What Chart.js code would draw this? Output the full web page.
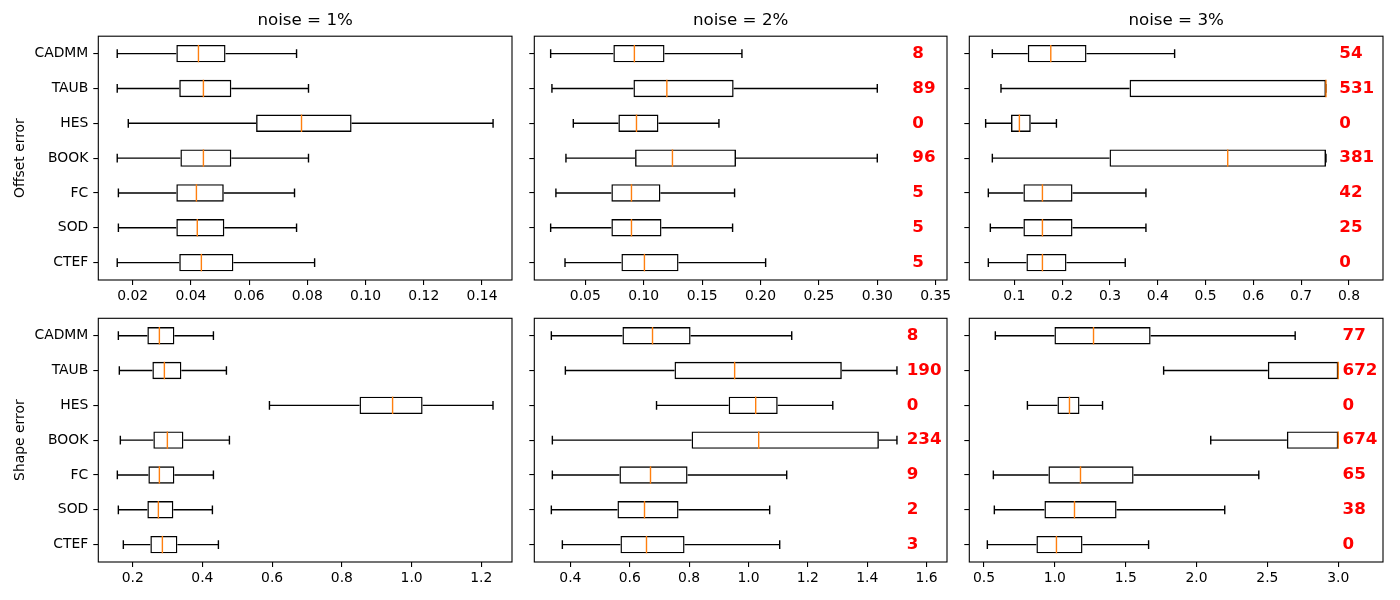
<!DOCTYPE html>
<html>
<head>
<meta charset="utf-8">
<script src="https://cdn.jsdelivr.net/npm/chart.js@4.4.1/dist/chart.umd.min.js"></script>
<style>
html, body { margin: 0; padding: 0; background: #fff; }
#fig { position: relative; width: 1400px; height: 600px; overflow: hidden; }
#fig canvas { position: absolute; }
</style>
</head>
<body>
<div id="fig"></div>
<script>
const methods = ['CADMM', 'TAUB', 'HES', 'BOOK', 'FC', 'SOD', 'CTEF'];

// each row: whisker low, Q1, median, Q3, whisker high
const offsetNoise1 = [
    [0.0147, 0.0350, 0.0426, 0.0519, 0.0763],
    [0.0147, 0.0360, 0.0443, 0.0539, 0.0804],
    [0.0185, 0.0624, 0.0780, 0.0952, 0.1438],
    [0.0147, 0.0364, 0.0443, 0.0539, 0.0804],
    [0.0151, 0.0350, 0.0419, 0.0513, 0.0756],
    [0.0151, 0.0350, 0.0422, 0.0515, 0.0763],
    [0.0147, 0.0360, 0.0436, 0.0546, 0.0825]
];
const offsetNoise2 = [
    [0.0203, 0.0740, 0.0920, 0.1178, 0.1841],
    [0.0214, 0.0912, 0.1198, 0.1770, 0.3000],
    [0.0397, 0.0783, 0.0938, 0.1126, 0.1644],
    [0.0334, 0.0926, 0.1246, 0.1790, 0.3000],
    [0.0248, 0.0723, 0.0895, 0.1143, 0.1778],
    [0.0203, 0.0723, 0.0895, 0.1152, 0.1761],
    [0.0326, 0.0809, 0.1006, 0.1298, 0.2044]
];
const offsetNoise3 = [
    [0.0539, 0.1280, 0.1762, 0.2509, 0.4353],
    [0.0720, 0.3410, 0.7520, 0.7520, 0.7520],
    [0.0399, 0.0930, 0.1105, 0.1343, 0.1880],
    [0.0539, 0.2991, 0.5464, 0.7520, 0.7520],
    [0.0455, 0.1189, 0.1587, 0.2216, 0.3753],
    [0.0497, 0.1189, 0.1587, 0.2216, 0.3753],
    [0.0455, 0.1252, 0.1587, 0.2090, 0.3320]
];
const shapeNoise1 = [
    [0.1589, 0.2421, 0.2766, 0.3196, 0.4316],
    [0.1617, 0.2565, 0.2909, 0.3397, 0.4689],
    [0.5923, 0.8507, 0.9455, 1.0316, 1.2335],
    [0.1646, 0.2593, 0.2995, 0.3455, 0.4775],
    [0.1560, 0.2450, 0.2766, 0.3196, 0.4316],
    [0.1589, 0.2421, 0.2737, 0.3167, 0.4287],
    [0.1732, 0.2507, 0.2852, 0.3282, 0.4459]
];
const shapeNoise2 = [
    [0.3359, 0.5754, 0.6767, 0.8049, 1.1456],
    [0.3831, 0.7508, 0.9533, 1.3143, 1.5000],
    [0.6902, 0.9331, 1.0242, 1.0984, 1.2839],
    [0.3393, 0.8083, 1.0343, 1.4392, 1.5000],
    [0.3393, 0.5653, 0.6699, 0.7947, 1.1287],
    [0.3359, 0.5586, 0.6497, 0.7643, 1.0713],
    [0.3730, 0.5687, 0.6564, 0.7846, 1.1051]
];
const shapeNoise3 = [
    [0.5800, 0.9972, 1.2729, 1.6758, 2.6960],
    [1.7677, 2.5028, 3.0000, 3.0000, 3.0000],
    [0.8063, 1.0184, 1.1032, 1.1739, 1.3365],
    [2.1000, 2.6372, 3.0000, 3.0000, 3.0000],
    [0.5660, 0.9548, 1.1810, 1.5556, 2.4392],
    [0.5730, 0.9265, 1.1386, 1.4355, 2.1989],
    [0.5236, 0.8699, 1.0113, 1.1950, 1.6616]
];

// red counts written at the right of each box
const offsetCount2 = [8, 89, 0, 96, 5, 5, 5];
const offsetCount3 = [54, 531, 0, 381, 42, 25, 0];
const shapeCount2 = [8, 190, 0, 234, 9, 2, 3];
const shapeCount3 = [77, 672, 0, 674, 65, 38, 0];

const ticksOffset1 = ['0.02', '0.04', '0.06', '0.08', '0.10', '0.12', '0.14'];
const ticksOffset2 = ['0.05', '0.10', '0.15', '0.20', '0.25', '0.30', '0.35'];
const ticksOffset3 = ['0.1', '0.2', '0.3', '0.4', '0.5', '0.6', '0.7', '0.8'];
const ticksShape1 = ['0.2', '0.4', '0.6', '0.8', '1.0', '1.2'];
const ticksShape2 = ['0.4', '0.6', '0.8', '1.0', '1.2', '1.4', '1.6'];
const ticksShape3 = ['0.5', '1.0', '1.5', '2.0', '2.5', '3.0'];

const FONT = 'DejaVu Sans';

const cols = [
    { left: 98.3, width: 413.4, yw: 98.3 },
    { left: 534.3, width: 412, yw: 12.3 },
    { left: 969.3, width: 413, yw: 12.3 }
];
const rows = [
    { top: 36.2, height: 243.2 },
    { top: 318.3, height: 243.4 }
];

const panels = [
    { row: 0, col: 0, stats: offsetNoise1, counts: null, ticks: ticksOffset1, min: 0.0082, max: 0.1503, title: 'noise = 1%', ylabel: 'Offset error' },
    { row: 0, col: 1, stats: offsetNoise2, counts: offsetCount2, ticks: ticksOffset2, min: 0.0063, max: 0.3597, title: 'noise = 2%', countX: 0.33 },
    { row: 0, col: 2, stats: offsetNoise3, counts: offsetCount3, ticks: ticksOffset3, min: 0.0057, max: 0.8713, title: 'noise = 3%', countX: 0.78 },
    { row: 1, col: 0, stats: shapeNoise1, counts: null, ticks: ticksShape1, min: 0.1014, max: 1.288, ylabel: 'Shape error' },
    { row: 1, col: 1, stats: shapeNoise2, counts: shapeCount2, ticks: ticksShape2, min: 0.2785, max: 1.6686, countX: 1.533 },
    { row: 1, col: 2, stats: shapeNoise3, counts: shapeCount3, ticks: ticksShape3, min: 0.3963, max: 3.3157, countX: 3.03 }
];

// whiskers, caps, medians, frame and counts
function boxPlugin(p) {
    return {
        id: 'boxExtras',
        afterDatasetsDraw(chart) {
            const ctx = chart.ctx;
            const area = chart.chartArea;
            const xs = chart.scales.x;
            const meta = chart.getDatasetMeta(0);
            ctx.save();
            meta.data.forEach((bar, i) => {
                const s = p.stats[i];
                const y = bar.y;
                const h = bar.height / 2;
                const cap = bar.height / 4;
                const px = s.map(v => xs.getPixelForValue(v));
                ctx.strokeStyle = '#000';
                ctx.lineWidth = 1.4;
                ctx.beginPath();
                ctx.moveTo(px[0], y); ctx.lineTo(px[1], y);
                ctx.moveTo(px[3], y); ctx.lineTo(px[4], y);
                ctx.moveTo(px[0], y - cap); ctx.lineTo(px[0], y + cap);
                ctx.moveTo(px[4], y - cap); ctx.lineTo(px[4], y + cap);
                ctx.stroke();
                ctx.strokeStyle = '#ff7f0e';
                ctx.beginPath();
                ctx.moveTo(px[2], y - h); ctx.lineTo(px[2], y + h);
                ctx.stroke();
                if (p.counts) {
                    ctx.fillStyle = '#ff0000';
                    ctx.font = 'bold 16.7px "' + FONT + '"';
                    ctx.textAlign = 'left';
                    ctx.textBaseline = 'middle';
                    ctx.fillText(String(p.counts[i]), xs.getPixelForValue(p.countX), y);
                }
            });
            ctx.strokeStyle = '#000';
            ctx.lineWidth = 1.1;
            ctx.strokeRect(area.left, area.top, area.right - area.left, area.bottom - area.top);
            ctx.restore();
        }
    };
}

const fig = document.getElementById('fig');

panels.forEach(p => {
    const c = cols[p.col];
    const r = rows[p.row];
    const canvasLeft = Math.round(c.left - c.yw);
    const yw = c.left - canvasLeft;
    const canvasTop = p.row === 0 ? 0 : 300;
    const padTop = p.row === 0 ? 0 : r.top - canvasTop;
    const titleH = p.row === 0 ? r.top : 0;
    const xh = 30;
    const canvas = document.createElement('canvas');
    canvas.width = Math.ceil(yw + c.width + 12);
    canvas.height = Math.ceil(r.top - canvasTop + r.height + xh);
    canvas.style.left = canvasLeft + 'px';
    canvas.style.top = canvasTop + 'px';
    fig.appendChild(canvas);

    new Chart(canvas, {
        type: 'bar',
        data: {
            labels: methods,
            datasets: [{
                data: p.stats.map(s => [s[1], s[3]]),
                backgroundColor: 'rgba(0,0,0,0)',
                borderColor: '#000',
                borderWidth: 1.4,
                borderSkipped: false,
                barPercentage: 0.5,
                categoryPercentage: 1
            }]
        },
        options: {
            indexAxis: 'y',
            responsive: false,
            animation: false,
            events: [],
            layout: { padding: { top: padTop, right: 12, bottom: 0, left: 0 } },
            plugins: {
                legend: { display: false },
                tooltip: { enabled: false },
                title: {
                    display: !!p.title,
                    text: p.title || '',
                    fullSize: false,
                    color: '#000',
                    font: { family: FONT, size: 16.7, weight: 'normal', lineHeight: 1.2 },
                    padding: { top: 11, bottom: titleH - 11 - 16.7 * 1.2 }
                }
            },
            scales: {
                x: {
                    type: 'linear',
                    min: p.min,
                    max: p.max,
                    grid: { drawOnChartArea: false, drawTicks: true, tickLength: 5, color: '#000', lineWidth: 1.1 },
                    border: { display: false },
                    ticks: {
                        color: '#000',
                        font: { family: FONT, size: 13.9 },
                        padding: 3,
                        autoSkip: false,
                        maxRotation: 0,
                        callback: (v, i) => p.ticks[i]
                    },
                    afterBuildTicks: s => { s.ticks = p.ticks.map(t => ({ value: parseFloat(t) })); },
                    afterFit: s => { s.height = xh; }
                },
                y: {
                    type: 'category',
                    offset: true,
                    grid: { offset: false, drawOnChartArea: false, drawTicks: true, tickLength: 5, color: '#000', lineWidth: 1.1 },
                    border: { display: false },
                    ticks: {
                        display: p.col === 0,
                        color: '#000',
                        font: { family: FONT, size: 13.9 },
                        padding: 5
                    },
                    title: {
                        display: !!p.ylabel,
                        text: p.ylabel || '',
                        color: '#000',
                        font: { family: FONT, size: 13.9 },
                        padding: { top: 11.7, bottom: 0 }
                    },
                    afterFit: s => { s.width = yw; }
                }
            }
        },
        plugins: [boxPlugin(p)]
    });
});
</script>
</body>
</html>
